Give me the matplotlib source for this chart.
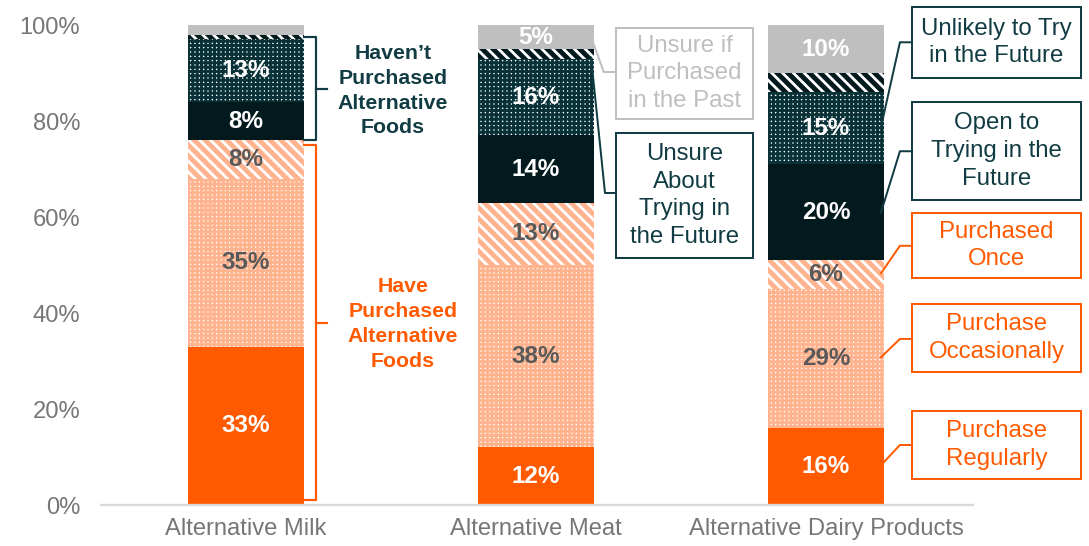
import numpy as np
import matplotlib.pyplot as plt
from matplotlib.patches import Rectangle

plt.rcParams['font.family'] = ['Liberation Sans', 'DejaVu Sans']

# Survey shares (%) per product, stacked bottom to top
categories = ['Alternative Milk', 'Alternative Meat', 'Alternative Dairy Products']
purchase_regularly = [33, 12, 16]
purchase_occasionally = [35, 38, 29]
purchased_once = [8, 13, 6]
open_to_trying = [8, 14, 20]
unsure_about_trying = [13, 16, 15]
unlikely_to_try = [1, 2, 4]
unsure_if_purchased = [2, 5, 10]

ORANGE = '#FF5A00'
PEACH = '#FFB48F'
DARK = '#021A1E'
TEAL = '#083238'
GRAY = '#BFBFBF'
TEXT_TEAL = '#123C43'
LABEL_GRAY = '#595959'

series = [purchase_regularly, purchase_occasionally, purchased_once,
          open_to_trying, unsure_about_trying, unlikely_to_try,
          unsure_if_purchased]
# face, hatch colour, hatch, hatch width, value label colour
styles = [
    (ORANGE, ORANGE, None, 1.0, 'white'),
    ('white', PEACH, '+++++', 1.6, LABEL_GRAY),
    ('white', PEACH, '\\\\\\\\', 2.7, LABEL_GRAY),
    (DARK, DARK, None, 1.0, 'white'),
    ('white', TEAL, '+++++', 1.6, 'white'),
    ('white', DARK, '\\\\\\\\', 2.7, 'white'),
    (GRAY, GRAY, None, 1.0, 'white'),
]

fig = plt.figure(figsize=(1089 / 130, 546 / 130), dpi=130)
ax = fig.add_axes([101 / 1089, 1 - 505 / 546, 872 / 1089, 480 / 546])

x = np.arange(len(categories))
width = 0.4
bottom = np.zeros(len(categories))
for vals, (face, hcol, hatch, hlw, tcol) in zip(series, styles):
    vals = np.array(vals, dtype=float)
    bars = ax.bar(x, vals, width, bottom=bottom, color=face, edgecolor=hcol,
                  linewidth=0, hatch=hatch, zorder=2)
    for b in bars:
        if hatch and hasattr(b, 'set_hatch_linewidth'):
            b.set_hatch_linewidth(hlw)
    for xi, v, b0 in zip(x, vals, bottom):
        if v >= 5:
            ax.text(xi, b0 + v / 2, f'{int(v)}%', ha='center', va='center',
                    fontsize=13.4, fontweight='bold', color=tcol, zorder=3)
    bottom += vals

ax.set_xlim(-0.5, 2.507)
ax.set_ylim(0, 100)
ax.set_xticks(x)
ax.set_xticklabels(categories)
ax.set_yticks(range(0, 101, 20))
ax.set_yticklabels([f'{v}%' for v in range(0, 101, 20)])
ax.tick_params(axis='y', length=0, pad=11.5, labelsize=13.2, labelcolor='#767676')
ax.tick_params(axis='x', length=0, pad=7, labelsize=13.2, labelcolor='#767676')
for s in ['top', 'right', 'left']:
    ax.spines[s].set_visible(False)
ax.spines['bottom'].set_color('#D9D9D9')
ax.spines['bottom'].set_linewidth(1.3)


def bracket(x0, x1, x2, y0, y1, color):
    ym = (y0 + y1) / 2
    ax.plot([x0, x1, x1, x0], [y1, y1, y0, y0], color=color, lw=1.2,
            solid_joinstyle='round', clip_on=False, zorder=3)
    ax.plot([x1, x2], [ym, ym], color=color, lw=1.2, clip_on=False, zorder=3)


edge = x[0] + width / 2
bracket(edge, edge + 0.04, edge + 0.08, 76, 97.5, TEXT_TEAL)
bracket(edge, edge + 0.04, edge + 0.08, 1, 75, ORANGE)
ax.text(0.507, 86.3, 'Haven\u2019t\nPurchased\nAlternative\nFoods', ha='center',
        va='center', fontsize=11.8, fontweight='bold', color=TEXT_TEAL,
        linespacing=1.38)
ax.text(0.541, 37.7, 'Have\nPurchased\nAlternative\nFoods', ha='center',
        va='center', fontsize=11.8, fontweight='bold', color=ORANGE,
        linespacing=1.38)


def callout(text, x0, x1, y0, y1, color, line, text_color=None):
    ax.add_patch(Rectangle((x0, y0), x1 - x0, y1 - y0, fill=False,
                           edgecolor=color, lw=1.1, clip_on=False, zorder=3))
    ax.text((x0 + x1) / 2, (y0 + y1) / 2, text, ha='center', va='center',
            fontsize=13.3, color=text_color or color, linespacing=1.33)
    lx, ly = zip(*line)
    ax.plot(lx, ly, color=color, lw=1.1, clip_on=False, zorder=3)


# leader lines start at the right edge of a bar segment
meat_edge = x[1] + width / 2
dairy_edge = x[2] + width / 2
callout('Unsure if\nPurchased\nin the Past', 1.276, 1.748, 80.4, 99.4, GRAY,
        [(meat_edge - 0.01, 97.5), (1.234, 90.2), (1.276, 90.2)])
callout('Unsure\nAbout\nTrying in\nthe Future', 1.276, 1.748, 51.5, 77.5,
        TEXT_TEAL, [(meat_edge - 0.01, 93.2), (1.238, 65.0), (1.276, 65.0)])
callout('Unlikely to Try\nin the Future', 2.297, 2.879, 89.0, 103.7, TEXT_TEAL,
        [(dairy_edge - 0.01, 78.8), (2.255, 96.4), (2.297, 96.4)])
callout('Open to\nTrying in the\nFuture', 2.297, 2.879, 63.5, 84.0, TEXT_TEAL,
        [(dairy_edge - 0.01, 61.0), (2.255, 73.7), (2.297, 73.7)])
callout('Purchased\nOnce', 2.297, 2.879, 47.3, 60.8, ORANGE,
        [(dairy_edge - 0.01, 48.3), (2.255, 54.0), (2.297, 54.0)])
callout('Purchase\nOccasionally', 2.297, 2.879, 27.7, 41.9, ORANGE,
        [(dairy_edge - 0.01, 30.8), (2.255, 34.6), (2.297, 34.6)])
callout('Purchase\nRegularly', 2.297, 2.879, 5.4, 19.6, ORANGE,
        [(dairy_edge - 0.01, 8.3), (2.255, 12.5), (2.297, 12.5)])

fig.savefig('out.png', dpi=130)
